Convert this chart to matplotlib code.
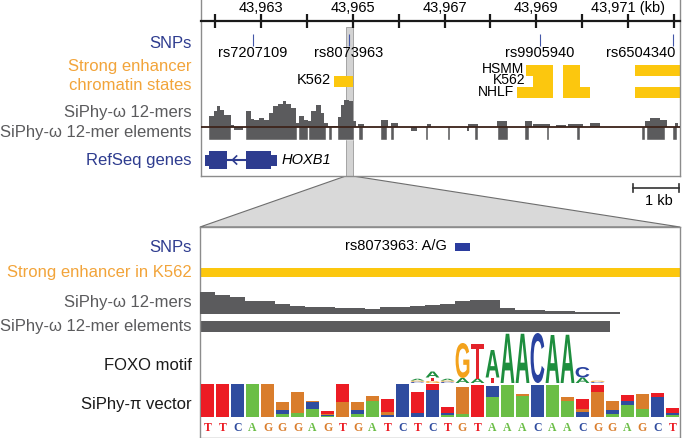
import matplotlib
matplotlib.use("Agg")
import matplotlib.pyplot as plt
from matplotlib.patches import Rectangle, Polygon, PathPatch
from matplotlib.textpath import TextPath
from matplotlib.font_manager import FontProperties
from matplotlib.transforms import Affine2D
from matplotlib.ticker import FixedLocator, FixedFormatter

plt.rcParams["font.family"] = ["Liberation Sans", "DejaVu Sans"]

# ---------------- upper panel data (positions in kb) ----------------
ruler_major = [43963, 43965, 43967, 43969, 43971]
ruler_labels = ["43,963", "43,965", "43,967", "43,969", "43,971 (kb)"]
ruler_minor = [43962, 43964, 43966, 43968, 43970, 43972]

snp_names = ["rs7207109", "rs8073963", "rs9905940", "rs6504340"]
snp_pos = [43962.83, 43964.91, 43969.07, 43971.98]

hsmm_enh = [(43968.78, 43969.37), (43969.59, 43969.96), (43971.15, 43972.3)]
k562_enh = [(43964.59, 43965.00), (43968.93, 43969.37), (43969.59, 43969.96)]
nhlf_enh = [(43968.57, 43969.37), (43969.59, 43970.17), (43971.15, 43972.3)]

omega_start = [43961.870, 43961.979, 43962.043, 43962.109, 43962.196, 43962.348,
               43962.413, 43962.674, 43962.783, 43962.848, 43962.957, 43963.065,
               43963.174, 43963.261, 43963.370, 43963.478, 43963.544, 43963.652,
               43963.761, 43963.826, 43963.935, 43964.022, 43964.087, 43964.196,
               43964.305, 43964.370, 43964.457, 43964.674, 43964.739, 43964.804,
               43964.913, 43965.000,
               43965.11, 43965.61, 43965.83, 43966.26, 43966.61, 43967.50,
               43967.52, 43968.15, 43968.76, 43968.93, 43969.43, 43969.70,
               43970.17, 43971.37, 43971.48, 43971.70, 43972.02]
omega_end = [43961.979, 43962.043, 43962.109, 43962.196, 43962.348, 43962.413,
             43962.609, 43962.783, 43962.848, 43962.957, 43963.065, 43963.174,
             43963.261, 43963.370, 43963.478, 43963.544, 43963.652, 43963.761,
             43963.826, 43963.935, 43964.022, 43964.087, 43964.196, 43964.305,
             43964.370, 43964.457, 43964.674, 43964.739, 43964.804, 43964.913,
             43965.000, 43965.065,
             43965.24, 43965.76, 43965.98, 43966.41, 43966.70, 43967.54,
             43967.74, 43968.37, 43968.91, 43969.30, 43969.65, 43970.02,
             43970.39, 43971.48, 43971.70, 43971.85, 43972.09]
omega_score = [10.6, 15.6, 20.6, 16.6, 12, 2,
               -3, 15.6, 8, 6.7, 9, 7.3,
               14, 20.6, 23.3, 25.6, 23.3, 19,
               4, 10.6, 7.3, 5.6, 15.6, 22.3,
               14, 4, 1, 10, 22, 27,
               26, 6,
               3, 7, 4, -4, 3, -4,
               3, 6, 6, 3, 2, 3,
               4, 6, 9, 7, 4]

elem_start = [43961.87, 43962.674, 43963.83, 43964.04, 43964.48, 43964.67,
              43965.13, 43965.61, 43965.83, 43966.59, 43967.07, 43967.67,
              43968.17, 43968.76, 43969.24, 43969.89, 43971.30, 43971.41, 43971.98]
elem_end = [43962.35, 43963.78, 43964.02, 43964.41, 43964.54, 43965.02,
            43965.22, 43965.74, 43965.89, 43966.65, 43967.13, 43967.74,
            43968.39, 43968.85, 43969.28, 43969.96, 43971.37, 43971.80, 43972.07]

hoxb1_utr = [(43961.78, 43961.86), (43963.21, 43963.35)]
hoxb1_cds = [(43961.86, 43962.26), (43962.67, 43963.21)]

zoom_region = (43964.85, 43965.00)
scale_kb = 1

# ---------------- lower panel data (positions in bases) ----------------
sequence = "TTCAGGGAGTGATCTCTGTAAACAACGGAGCT"
snp_base = 17
snp_text = "rs8073963: A/G"

omega_bases = [21.7, 19.3, 17.3, 13.3, 13.3, 10, 8.3, 7.3, 7.3, 6, 6, 5,
               6.7, 6.7, 7.7, 9, 10, 12.7, 14, 14, 6, 4.3, 4.3, 3.3,
               3.3, 2.3, 2.3, 2.3]
elem_bases = (0, 27.3)

logo_pos = [14, 15, 16, 17, 18, 19, 20, 21, 22, 23, 24, 25, 26]
logo_stacks = [
    [("C", 0.05), ("G", 0.05), ("A", 0.07)],
    [("G", 0.08), ("T", 0.14), ("A", 0.24)],
    [("C", 0.05), ("G", 0.05), ("A", 0.07)],
    [("A", 0.20), ("G", 1.40)],
    [("A", 0.18), ("T", 1.40)],
    [("T", 0.22), ("A", 1.10)],
    [("A", 1.97)],
    [("A", 1.97)],
    [("C", 2.00)],
    [("A", 1.92)],
    [("A", 1.93)],
    [("A", 0.22), ("C", 0.42)],
    [("C", 0.04), ("G", 0.05)],
]

pi_stacks = [
    [("T", 1.0)], [("T", 1.0)], [("C", 1.0)], [("A", 1.0)], [("G", 1.0)],
    [("A", .09), ("C", .13), ("G", .23)],
    [("A", .12), ("G", .63)],
    [("A", .24), ("C", .20), ("G", .05)],
    [("A", .02), ("C", .03), ("G", .05), ("T", .07)],
    [("G", .45), ("T", .55)],
    [("A", .10), ("C", .12), ("G", .22)],
    [("A", .47), ("G", .18)],
    [("C", .07), ("G", .08), ("T", .39)],
    [("C", 1.0)],
    [("C", .12), ("T", .63)],
    [("C", .83), ("T", .17)],
    [("A", .05), ("C", .07), ("T", .18)],
    [("A", .10), ("G", .80)],
    [("T", .98)],
    [("A", .60), ("C", .34)],
    [("A", .97)],
    [("A", .64), ("G", .06)],
    [("C", .97)],
    [("A", .97)],
    [("A", .47), ("G", .13)],
    [("C", .15), ("G", .08), ("T", .31)],
    [("G", .77), ("T", .20)],
    [("A", .10), ("C", .10), ("G", .30)],
    [("A", .35), ("C", .14), ("T", .18)],
    [("A", .24), ("G", .45)],
    [("C", .60), ("T", .14)],
    [("A", .05), ("C", .07), ("T", .15)],
]

# ---------------- style / layout ----------------
W, H = 685, 438
BLUE = "#2E3C8F"
ORANGE = "#F2A43A"
YELLOW = "#FCC70E"
GRAY = "#5B5B5D"
FRAME = "#8C8C8C"
bar_col = {"A": "#6BBE46", "C": "#2F4C9F", "G": "#D97D2C", "T": "#EC1C24"}
logo_col = {"A": "#1E8E3E", "C": "#2A43A0", "G": "#F3A21C", "T": "#E3232B"}

TOP_X0, TOP_X1 = 201, 680
PX_PER_KB = 45.9
KB_LO = 43962 - (215 - TOP_X0) / PX_PER_KB
KB_HI = 43972 + (TOP_X1 - 674) / PX_PER_KB
BOT_X0, BOT_X1 = 200, 680
N_BASES = len(sequence)


def kb_to_px(kb):
    return TOP_X0 + (kb - KB_LO) * PX_PER_KB


def add_ax(x0, y0, x1, y1):
    return fig.add_axes([x0 / W, 1 - y1 / H, (x1 - x0) / W, (y1 - y0) / H])


def draw_letter(ax, ch, x, y, w, h, color, prop):
    tp = TextPath((0, 0), ch, size=1, prop=prop)
    bb = tp.get_extents()
    t = Affine2D().translate(-bb.x0, -bb.y0).scale(w / bb.width, h / bb.height).translate(x, y)
    ax.add_patch(PathPatch(t.transform_path(tp), fc=color, ec="none", lw=0))


fig = plt.figure(figsize=(W / 100, H / 100), dpi=100)

# background axes in pixel units: left labels, zoom trapezoid, scale bar
bg = fig.add_axes([0, 0, 1, 1])
bg.set_xlim(0, W)
bg.set_ylim(H, 0)
bg.axis("off")

left_labels = [
    ("SNPs", 43, BLUE), ("Strong enhancer", 67, ORANGE), ("chromatin states", 85, ORANGE),
    ("SiPhy-ω 12-mers", 112, GRAY), ("SiPhy-ω 12-mer elements", 133, GRAY),
    ("RefSeq genes", 161, BLUE),
    ("SNPs", 247, BLUE), ("Strong enhancer in K562", 272, ORANGE),
    ("SiPhy-ω 12-mers", 303, GRAY), ("SiPhy-ω 12-mer elements", 326, GRAY),
    ("FOXO motif", 366, "#1a1a1a"), ("SiPhy-π vector", 405, "#1a1a1a"),
]
for txt, y, c in left_labels:
    bg.text(192, y, txt, ha="right", va="center", fontsize=12, color=c)

zx0, zx1 = kb_to_px(zoom_region[0]), kb_to_px(zoom_region[1])
bg.add_patch(Polygon([(zx0, 176), (zx1, 176), (BOT_X1, 227), (BOT_X0, 227)],
                     closed=True, fc="#D9D9D9", ec="#6E6E6E", lw=0.8))

sb_x1 = 679
sb_x0 = sb_x1 - scale_kb * PX_PER_KB
bg.plot([sb_x0, sb_x1], [188, 188], color="#333333", lw=1.2)
bg.plot([sb_x0, sb_x0], [184, 192], color="#333333", lw=1.2)
bg.plot([sb_x1, sb_x1], [184, 192], color="#333333", lw=1.2)
bg.text((sb_x0 + sb_x1) / 2 + 3, 201, f"{scale_kb} kb", ha="center", va="center", fontsize=10.5)

# ---------------- upper panel ----------------
top = add_ax(TOP_X0, -5, TOP_X1, 176)
top.set_xlim(KB_LO, KB_HI)
top.set_ylim(176, -5)
top.set_xticks([])
top.set_yticks([])
for s in top.spines.values():
    s.set_color(FRAME)
    s.set_linewidth(1)
top.spines["top"].set_visible(False)

top.add_patch(Rectangle((zoom_region[0], 27), zoom_region[1] - zoom_region[0], 149,
                        fc="#D3D3D3", ec="#9A9A9A", lw=0.6, zorder=0))

top.vlines(snp_pos, 34, 46, color="#4457A8", lw=0.8)
for name, pos in zip(snp_names, snp_pos):
    ha = "right" if pos > 43971.5 else "center"
    xx = pos + 0.04 if ha == "right" else pos
    top.text(xx, 53, name, ha=ha, va="center", fontsize=10.5)

rows = {"HSMM": (65, 76), "K562": (76, 87), "NHLF": (87, 98)}
for cell, segs in (("HSMM", hsmm_enh), ("K562", k562_enh), ("NHLF", nhlf_enh)):
    y0, y1 = rows[cell]
    for a, b in segs:
        top.add_patch(Rectangle((a, y0), b - a, y1 - y0, fc=YELLOW, ec="none"))
top.text(43964.53, 80, "K562", ha="right", va="center", fontsize=10.5)
top.text(43968.73, 69, "HSMM", ha="right", va="center", fontsize=10)
top.text(43968.76, 80.5, "K562", ha="right", va="center", fontsize=10)
top.text(43968.52, 92, "NHLF", ha="right", va="center", fontsize=10)

# gene model
intron_lo, intron_hi = hoxb1_cds[0][1], hoxb1_cds[1][0]
top.plot([intron_lo, intron_hi], [160, 160], color=BLUE, lw=1.5)
ax_tip = intron_lo + 0.12
top.plot([ax_tip + 0.09, ax_tip, ax_tip + 0.09], [156, 160, 164], color=BLUE, lw=1.2)
for a, b in hoxb1_cds:
    top.add_patch(Rectangle((a, 151), b - a, 18, fc=BLUE, ec="none"))
for a, b in hoxb1_utr:
    top.add_patch(Rectangle((a, 154.5), b - a, 11, fc=BLUE, ec="none"))
top.text(43963.45, 160, "HOXB1", ha="left", va="center", fontsize=10.5, style="italic")

# SiPhy-omega signal and elements
sig = add_ax(TOP_X0, 95, TOP_X1, 145)
sig.set_xlim(KB_LO, KB_HI)
sig.set_ylim(-18, 32)
sig.axis("off")
sig.bar(omega_start, omega_score, width=[e - s for s, e in zip(omega_start, omega_end)],
        align="edge", color=GRAY, lw=0)
sig.bar(elem_start, [-13] * len(elem_start), width=[e - s for s, e in zip(elem_start, elem_end)],
        align="edge", color=GRAY, ec="white", lw=0.3)
sig.axhline(0, color="#3A2118", lw=1.3)

# ruler
ruler = add_ax(TOP_X0, 21, TOP_X1, 40)
ruler.set_xlim(KB_LO, KB_HI)
ruler.patch.set_visible(False)
for k in ("left", "right", "bottom"):
    ruler.spines[k].set_visible(False)
ruler.spines["top"].set_color("#1a1a1a")
ruler.spines["top"].set_linewidth(1.6)
ruler.set_yticks([])
ruler.xaxis.set_ticks_position("top")
ruler.xaxis.set_major_locator(FixedLocator(ruler_major))
ruler.xaxis.set_major_formatter(FixedFormatter(ruler_labels))
ruler.xaxis.set_minor_locator(FixedLocator(ruler_minor))
ruler.tick_params(which="both", direction="inout", length=10, width=1.6, color="#1a1a1a",
                  labelsize=10.5, pad=-0.5, labeltop=True, labelbottom=False)

# ---------------- lower panel ----------------
bot = add_ax(BOT_X0, 227, BOT_X1, 437.5)
bot.set_xlim(0, N_BASES)
bot.set_ylim(437.5, 227)
bot.set_xticks([])
bot.set_yticks([])
for s in bot.spines.values():
    s.set_color(FRAME)
    s.set_linewidth(1)

bot.add_patch(Rectangle((snp_base, 243), 1, 8, fc="#2B3C9E", ec="none"))
bot.text(snp_base - 0.55, 246.5, snp_text, ha="right", va="center", fontsize=10.5)
bot.add_patch(Rectangle((0, 268), N_BASES, 9, fc=YELLOW, ec="none"))
bot.add_patch(Rectangle((elem_bases[0], 321), elem_bases[1] - elem_bases[0], 11, fc=GRAY, ec="none"))

seq_font = FontProperties(family="Liberation Serif", weight="bold", size=8.5)
for i, ch in enumerate(sequence):
    bot.text(i + 0.5, 428, ch, ha="center", va="center", color=bar_col[ch], fontproperties=seq_font)

bsig = add_ax(BOT_X0, 285, BOT_X1, 314)
bsig.set_xlim(0, N_BASES)
bsig.set_ylim(0, 29)
bsig.axis("off")
bsig.bar(range(len(omega_bases)), omega_bases, width=1, align="edge", color=GRAY, lw=0)

logo = add_ax(BOT_X0, 333, BOT_X1, 383)
logo.set_xlim(0, N_BASES)
logo.set_ylim(0, 2)
logo.axis("off")
logo_font = FontProperties(family=["Liberation Sans Narrow", "Liberation Sans"], weight="bold")
for pos, stack in zip(logo_pos, logo_stacks):
    y = 0
    for ch, h in stack:
        draw_letter(logo, ch, pos + 0.04, y, 0.92, h, logo_col[ch], logo_font)
        y += h

pi = add_ax(BOT_X0, 384, BOT_X1, 417)
pi.set_xlim(0, N_BASES)
pi.set_ylim(0, 1)
pi.axis("off")
for i, stack in enumerate(pi_stacks):
    y = 0
    for ch, h in stack:
        pi.bar(i + 0.5, h, bottom=y, width=0.9, color=bar_col[ch], lw=0)
        y += h

fig.savefig("out.png", dpi=100)
